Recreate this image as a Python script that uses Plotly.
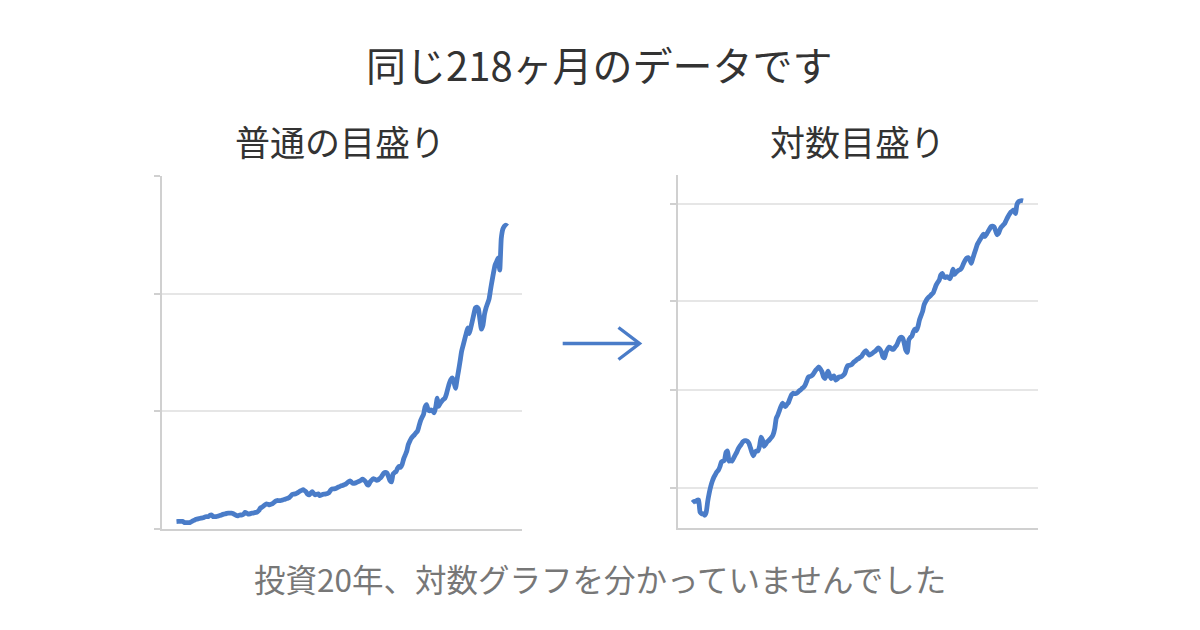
import plotly.graph_objects as go

# 218 monthly values (same data on both charts)
months = list(range(218))
values = [
    6.3, 6.4, 6.4, 6.5, 6.5, 5.6, 5.5, 5.5, 5.4, 5.6,
    6.4, 7.1, 7.7, 8.2, 8.6, 8.9, 9.2, 9.4, 9.8, 10.4,
    10.5, 10.6, 11.7, 11.9, 10.5, 10.6, 10.5, 10.9, 11.3, 11.7,
    12.2, 12.6, 12.9, 13.3, 13.5, 13.5, 13.4, 13.1, 12.4, 11.7,
    11.2, 11.7, 11.9, 11.9, 12.6, 14.1, 13.6, 12.6, 12.9, 13.3,
    13.5, 13.8, 14.1, 14.6, 15.7, 17.8, 18.5, 19.5, 20.5, 21.4,
    21.0, 20.5, 21.1, 21.6, 22.7, 23.7, 24.2, 24.1, 24.1, 24.4,
    24.9, 25.2, 25.7, 26.1, 26.8, 28.1, 29.5, 29.7, 29.9, 30.4,
    31.3, 32.2, 32.8, 33.4, 32.6, 31.5, 29.6, 29.0, 30.4, 31.7,
    30.2, 29.0, 29.6, 29.9, 28.4, 28.8, 29.5, 29.6, 29.8, 30.2,
    30.9, 32.8, 34.0, 34.1, 34.3, 34.8, 35.6, 36.0, 36.7, 37.0,
    37.6, 38.1, 39.3, 40.3, 40.8, 39.5, 38.7, 39.0, 39.5, 40.1,
    40.6, 41.5, 42.3, 41.6, 40.3, 37.9, 37.4, 40.0, 41.5, 42.7,
    42.3, 41.5, 41.6, 42.7, 43.7, 45.6, 47.6, 48.2, 47.6, 44.7,
    41.1, 40.0, 46.6, 48.0, 48.8, 51.6, 53.2, 52.3, 54.9, 59.6,
    62.8, 66.0, 71.6, 74.6, 77.1, 78.7, 80.0, 81.7, 83.0, 87.2,
    91.7, 94.7, 97.3, 103.5, 105.7, 101.3, 100.4, 101.3, 100.4, 98.8,
    103.5, 111.1, 104.3, 106.9, 108.6, 110.0, 111.1, 114.5, 119.6, 124.1,
    127.2, 128.3, 124.6, 119.6, 127.2, 134.7, 142.6, 151.1, 156.1, 161.2,
    166.0, 171.0, 166.0, 171.0, 176.5, 182.4, 187.8, 188.5, 187.1, 177.9,
    169.8, 173.3, 182.4, 187.8, 191.6, 195.5, 203.6, 211.2, 218.4, 224.6,
    227.4, 230.3, 220.1, 246.8, 254.8, 257.3, 258.3, 257.3,
]

linear_ticks = [0, 100, 200, 300]
log_ticks = [7.55, 25.1, 75.5, 247.9]

title_text = "同じ218ヶ月のデータです"
left_title = "普通の目盛り"
right_title = "対数目盛り"
footer_text = "投資20年、対数グラフを分かっていませんでした"

LINE_COLOR = "#4a7cc8"
AXIS_COLOR = "#d0d0d0"
GRID_COLOR = "#e6e6e6"
FONT = "Noto Sans CJK JP"

# the page body has an 8px margin; size the figure to fit the window
OFF = 8
W, H = 1200 - OFF, 630 - OFF


def px(x):
    return (x - OFF) / W


def py(y):
    return 1 - (y - OFF) / H


fig = go.Figure()
for xa, ya in (("x", "y"), ("x2", "y2")):
    fig.add_trace(go.Scatter(x=months, y=values, mode="lines",
                             line=dict(color=LINE_COLOR, width=4.8, shape="spline", smoothing=0.5),
                             xaxis=xa, yaxis=ya, hoverinfo="skip"))

xr = [-9.7, 226.6]

common_x = dict(showgrid=False, zeroline=False, showline=True, linecolor=AXIS_COLOR,
                linewidth=1.5, ticks="", showticklabels=False, range=xr, fixedrange=True)
common_y = dict(showgrid=True, gridcolor=GRID_COLOR, gridwidth=1.5, zeroline=False,
                showline=True, linecolor=AXIS_COLOR, linewidth=1.5, ticks="outside",
                ticklen=6, tickwidth=1.5, tickcolor=AXIS_COLOR, showticklabels=False,
                fixedrange=True)

fig.update_layout(
    width=W, height=H,
    margin=dict(l=0, r=0, t=0, b=0),
    paper_bgcolor="white", plot_bgcolor="white",
    showlegend=False,
    font=dict(family=FONT),
    xaxis=dict(domain=[px(161.7), px(522)], anchor="y", **common_x),
    yaxis=dict(domain=[py(529), py(176)], anchor="x", range=[0, 300], tickmode="array",
               tickvals=linear_ticks, **common_y),
    xaxis2=dict(domain=[px(677.7), px(1037.7)], anchor="y2", **common_x),
    yaxis2=dict(domain=[py(528), py(175)], anchor="x2", type="log",
                range=[0.6642, 2.549], tickmode="array", tickvals=log_ticks, **common_y),
)

# arrow between the charts
fig.add_shape(type="line", xref="paper", yref="paper",
              x0=px(562.7), y0=py(343.5), x1=px(638.5), y1=py(343.5),
              line=dict(color=LINE_COLOR, width=3.4))
fig.add_shape(type="path", xref="paper", yref="paper",
              path=f"M {px(618.5)} {py(327.5)} L {px(639.5)} {py(343.5)} L {px(618.5)} {py(359.5)}",
              line=dict(color=LINE_COLOR, width=3.4))

fig.add_annotation(text=title_text, xref="paper", yref="paper", x=px(599), y=py(64),
                   showarrow=False, xanchor="center", yanchor="middle",
                   font=dict(size=40, color="#333333", family=FONT))
fig.add_annotation(text=left_title, xref="paper", yref="paper", x=px(339.5), y=py(141),
                   showarrow=False, xanchor="center", yanchor="middle",
                   font=dict(size=35, color="#333333", family=FONT))
fig.add_annotation(text=right_title, xref="paper", yref="paper", x=px(857), y=py(141),
                   showarrow=False, xanchor="center", yanchor="middle",
                   font=dict(size=35, color="#333333", family=FONT))
fig.add_annotation(text=footer_text, xref="paper", yref="paper", x=px(600), y=py(578),
                   showarrow=False, xanchor="center", yanchor="middle",
                   font=dict(size=31.5, color="#777777", family=FONT))

fig.write_html("out.html")
